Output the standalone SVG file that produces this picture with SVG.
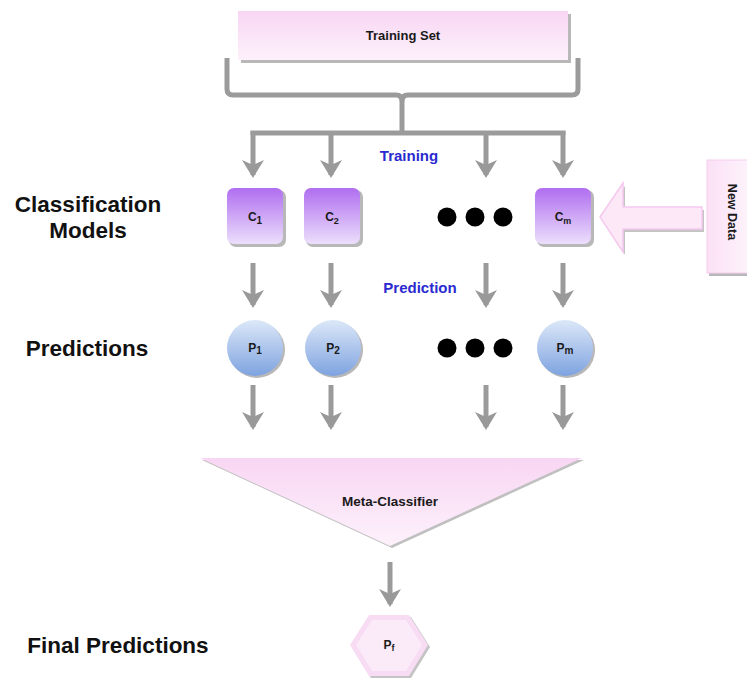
<svg xmlns="http://www.w3.org/2000/svg" width="747" height="679" viewBox="0 0 747 679">
<defs>
<linearGradient id="gPink" x1="0" y1="0" x2="0" y2="1"><stop offset="0" stop-color="#f8d6f3"/><stop offset="1" stop-color="#fdf1fb"/></linearGradient>
<linearGradient id="gPinkH" x1="0" y1="0" x2="1" y2="0"><stop offset="0" stop-color="#fbe0f6"/><stop offset="1" stop-color="#fdf3fb"/></linearGradient>
<linearGradient id="gPurple" x1="0" y1="0" x2="0" y2="1"><stop offset="0" stop-color="#b06ef0"/><stop offset="1" stop-color="#ecdffb"/></linearGradient>
<linearGradient id="gBlue" x1="0" y1="0" x2="0" y2="1"><stop offset="0" stop-color="#dce8f8"/><stop offset="1" stop-color="#7ea3e0"/></linearGradient>
<marker id="ah" markerUnits="userSpaceOnUse" markerWidth="18" markerHeight="22" refX="15" refY="11" orient="auto" viewBox="0 0 18 22">
<polygon points="0,0 18,11 0,22 5,11" fill="#999999"/>
</marker>
</defs>
<style>
.conn{stroke:#9b9b9b;stroke-width:5;fill:none}
.arr{stroke:#9b9b9b;stroke-width:5;fill:none;marker-end:url(#ah)}
.shadow{fill:#b8b8b8}
.lbl{font-family:"Liberation Sans",Arial,sans-serif;font-weight:bold;fill:#1a1a1a;text-anchor:middle}
.big{font-family:"Liberation Sans",Arial,sans-serif;font-weight:bold;font-size:22.5px;fill:#111;text-anchor:middle}
.blue{font-family:"Liberation Sans",Arial,sans-serif;font-weight:bold;font-size:15px;fill:#2a2ad0;text-anchor:middle}
.small{font-size:12px}
.dot{fill:#000}
</style>
<rect width="747" height="679" fill="#ffffff"/>

<g id="connectors">
<path class="conn" d="M227,58 V89 Q227,95 233,95 H396 Q402,95 402,101 V133" stroke-width="4"/>
<path class="conn" d="M578,58 V89 Q578,95 572,95 H408 Q402,95 402,101" stroke-width="4"/>
<path class="conn" d="M253,135 V133 H563 V135" stroke-linejoin="miter"/>
<line class="arr" x1="253" y1="131" x2="253" y2="175"/>
<line class="arr" x1="331" y1="133" x2="331" y2="175"/>
<line class="arr" x1="486" y1="133" x2="486" y2="175"/>
<line class="arr" x1="563" y1="131" x2="563" y2="175"/>
<line class="arr" x1="253" y1="263" x2="253" y2="305"/>
<line class="arr" x1="331" y1="263" x2="331" y2="305"/>
<line class="arr" x1="486" y1="263" x2="486" y2="305"/>
<line class="arr" x1="563" y1="263" x2="563" y2="305"/>
<line class="arr" x1="253" y1="385" x2="253" y2="427"/>
<line class="arr" x1="331" y1="385" x2="331" y2="427"/>
<line class="arr" x1="486" y1="385" x2="486" y2="427"/>
<line class="arr" x1="563" y1="385" x2="563" y2="427"/>
<line class="arr" x1="390" y1="562" x2="390" y2="604"/>
<g id="newdata-arrow">
<polygon points="602,219 625,186 625,210 704,210 704,232 625,232 625,255" fill="#c4c4c4"/>
<polygon points="600,217 623,183 623,207 702,207 702,229 623,229 623,252" fill="#fde8f8" stroke="#f4c9ee" stroke-width="1.5"/>
</g>
</g>

<g id="training-set">
<rect class="shadow" x="241" y="14" width="330" height="49"/>
<rect x="238" y="11" width="330" height="49" fill="url(#gPink)"/>
<text class="lbl" x="403" y="40" font-size="13">Training Set</text>
</g>

<text class="blue" x="409" y="161">Training</text>
<text class="blue" x="420" y="293">Prediction</text>

<g id="labels">
<text class="big" x="88" y="212">Classification</text>
<text class="big" x="88" y="238">Models</text>
<text class="big" x="87" y="356">Predictions</text>
<text class="big" x="118" y="653">Final Predictions</text>
</g>

<g id="c1">
<rect class="shadow" x="229" y="190" width="57" height="57" rx="7"/>
<rect x="227" y="188" width="56" height="56" rx="7" fill="url(#gPurple)"/>
<text class="lbl small" x="255" y="221">C<tspan font-size="10" dy="3">1</tspan></text>
</g>
<g id="c2">
<rect class="shadow" x="306" y="190" width="57" height="57" rx="7"/>
<rect x="304" y="188" width="56" height="56" rx="7" fill="url(#gPurple)"/>
<text class="lbl small" x="332" y="221">C<tspan font-size="9" dy="3">2</tspan></text>
</g>
<g id="cdots">
<circle class="dot" cx="447" cy="217" r="9.5"/>
<circle class="dot" cx="475" cy="217" r="9.5"/>
<circle class="dot" cx="503" cy="217" r="9.5"/>
</g>
<g id="cm">
<rect class="shadow" x="537" y="190" width="57" height="57" rx="7"/>
<rect x="535" y="188" width="56" height="56" rx="7" fill="url(#gPurple)"/>
<text class="lbl small" x="563" y="221">C<tspan font-size="9" dy="3">m</tspan></text>
</g>

<g id="new-data">
<rect class="shadow" x="709" y="163" width="40" height="113"/>
<rect x="707" y="160" width="42" height="113" fill="url(#gPinkH)" stroke="#f4cdee" stroke-width="1"/>
<text class="lbl" font-size="12.5" transform="translate(728,212) rotate(90)">New Data</text>
</g>

<g id="p1">
<circle class="shadow" cx="257" cy="350" r="28"/>
<circle cx="255" cy="348" r="28" fill="url(#gBlue)"/>
<text class="lbl small" x="255" y="352">P<tspan font-size="10" dy="2">1</tspan></text>
</g>
<g id="p2">
<circle class="shadow" cx="335" cy="350" r="28"/>
<circle cx="333" cy="348" r="28" fill="url(#gBlue)"/>
<text class="lbl small" x="333" y="352">P<tspan font-size="10" dy="2">2</tspan></text>
</g>
<g id="pdots">
<circle class="dot" cx="447" cy="348" r="9.5"/>
<circle class="dot" cx="475" cy="348" r="9.5"/>
<circle class="dot" cx="503" cy="348" r="9.5"/>
</g>
<g id="pm">
<circle class="shadow" cx="567" cy="350" r="28"/>
<circle cx="565" cy="348" r="28" fill="url(#gBlue)"/>
<text class="lbl small" x="565" y="352">P<tspan font-size="10" dy="2">m</tspan></text>
</g>

<g id="meta-classifier">
<polygon points="202,460 584,460 392,548" fill="#c0c0c0"/>
<polygon points="200,458 582,458 390,546" fill="url(#gPink)"/>
<text class="lbl" x="390" y="506" font-size="13.5">Meta-Classifier</text>
</g>

<g id="pf">
<polygon points="352,647 371,617 411,617 430,647 411,678 371,678" fill="#c4c4c4"/>
<polygon points="350,645 369,615 409,615 428,645 409,676 369,676" fill="#f8dcf4"/>
<polygon points="356,645 372,620 406,620 422,645 406,671 372,671" fill="#fbeaf8"/>
<text class="lbl small" x="389" y="649">P<tspan font-size="9" dy="2">f</tspan></text>
</g>
</svg>
